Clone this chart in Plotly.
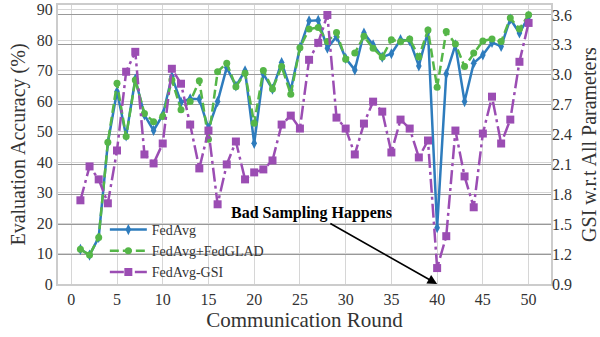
import plotly.graph_objects as go

rounds = list(range(1, 51))

fedavg = [11.4, 9.5, 15.3, 46.3, 63.2, 48.6, 67.3, 55.5, 50.4, 55.5,
          68.1, 59.7, 60.8, 60.7, 51.1, 59.9, 71.1, 65.0, 70.0, 46.2,
          69.0, 64.0, 72.7, 63.7, 77.6, 86.4, 86.6, 77.4, 81.3, 74.1,
          70.3, 82.4, 78.5, 74.5, 75.6, 80.2, 79.9, 71.6, 82.9, 18.5,
          69.0, 78.5, 59.9, 72.5, 75.2, 79.3, 78.0, 87.0, 82.4, 87.8]

fedglad = [11.4, 9.5, 15.3, 46.5, 65.9, 48.4, 67.0, 56.0, 53.3, 55.0,
           67.0, 57.2, 59.9, 66.7, 47.5, 69.7, 72.5, 64.8, 69.2, 52.8,
           70.1, 64.0, 71.4, 62.3, 77.6, 83.7, 84.2, 79.6, 82.6, 73.8,
           75.8, 81.3, 77.4, 74.5, 80.2, 79.5, 80.4, 74.5, 83.4, 64.6,
           82.9, 78.8, 71.4, 75.8, 79.8, 80.4, 79.6, 87.3, 83.7, 88.4]

gsi = [1.74, 2.08, 1.95, 1.71, 2.24, 3.03, 3.23, 2.20, 2.11, 2.31,
       3.06, 2.91, 2.50, 2.06, 2.44, 1.70, 2.10, 2.33, 1.95, 2.02,
       2.05, 2.14, 2.50, 2.59, 2.46, 3.15, 3.32, 3.60, 2.57, 2.46,
       2.20, 2.51, 2.73, 2.63, 2.22, 2.55, 2.46, 2.17, 2.34, 1.06,
       1.38, 2.44, 1.98, 1.67, 2.41, 2.78, 2.31, 2.55, 3.13, 3.52]

x_ticks = list(range(0, 51, 5))
left_ticks = list(range(0, 91, 10))
right_ticks = [0.9, 1.2, 1.5, 1.8, 2.1, 2.4, 2.7, 3.0, 3.3, 3.6]

BLUE = "#2e7cbd"
GREEN = "#55b648"
PURPLE = "#9b4db3"
FONT = "Liberation Serif, Times New Roman, serif"
TXT = "#333333"

fig = go.Figure()
fig.add_trace(go.Scatter(
    x=rounds, y=fedavg, name="FedAvg", mode="lines+markers",
    line=dict(color=BLUE, width=2.5),
    marker=dict(symbol="diamond-tall", size=8, color=BLUE)))
fig.add_trace(go.Scatter(
    x=rounds, y=fedglad, name="FedAvg+FedGLAD", mode="lines+markers",
    line=dict(color=GREEN, width=2.5, dash="9px,4px"),
    marker=dict(symbol="circle", size=7, color=GREEN)))
fig.add_trace(go.Scatter(
    x=rounds, y=gsi, name="FedAvg-GSI", mode="lines+markers", yaxis="y2",
    line=dict(color=PURPLE, width=2.5, dash="14px,4px,3px,4px"),
    marker=dict(symbol="square", size=8, color=PURPLE)))

fig.add_annotation(
    x=40, y=0, xref="x", yref="y",
    ax=26.3, ay=23.3, axref="x", ayref="y",
    text="<b>Bad Sampling Happens</b>",
    font=dict(family=FONT, size=16, color="black"),
    showarrow=True, arrowhead=2, arrowsize=1.2, arrowwidth=1.6,
    arrowcolor="black", standoff=0)

fig.update_layout(
    width=600, height=337,
    margin=dict(l=58, r=49, t=5, b=53),
    paper_bgcolor="white", plot_bgcolor="white",
    font=dict(family=FONT, size=16, color=TXT),
    showlegend=True,
    legend=dict(x=0.095, y=0.251, xanchor="left", yanchor="top",
                bgcolor="rgba(255,255,255,0)", borderwidth=0,
                font=dict(family=FONT, size=14, color=TXT),
                tracegroupgap=0, itemwidth=37),
    xaxis=dict(range=[-1.45, 52.45], tickvals=x_ticks, automargin=False,
               showgrid=True, gridcolor="#d6d6d6", gridwidth=1.2,
               showline=True, linecolor="#cccccc", linewidth=2, mirror=True,
               zeroline=False, ticks="",
               title=dict(text="Communication Round",
                          font=dict(family=FONT, size=21, color=TXT),
                          standoff=2),
               tickfont=dict(family=FONT, size=16, color=TXT)),
    yaxis=dict(range=[0, 91.6], tickvals=left_ticks, automargin=False,
               showgrid=True, gridcolor="#d6d6d6", gridwidth=1.2,
               showline=True, linecolor="#cccccc", linewidth=2, mirror=True,
               zeroline=False, ticks="",
               title=dict(text="Evaluation Accuracy (%)",
                          font=dict(family=FONT, size=20, color=TXT),
                          standoff=6),
               tickfont=dict(family=FONT, size=16, color=TXT)),
    yaxis2=dict(range=[0.9, 3.70], tickvals=right_ticks, automargin=False,
                ticktext=[f"{v:.1f}" for v in right_ticks],
                overlaying="y", side="right",
                showgrid=True, gridcolor="#999999", gridwidth=1.2,
                zeroline=False, ticks="", showline=False,
                title=dict(text="GSI w.r.t All Parameters",
                           font=dict(family=FONT, size=20, color=TXT),
                           standoff=12),
                tickfont=dict(family=FONT, size=16, color=TXT)),
)

fig.write_html("out.html", config={"displayModeBar": False},
               post_script="document.body.style.margin='0';document.body.style.padding='0';")
